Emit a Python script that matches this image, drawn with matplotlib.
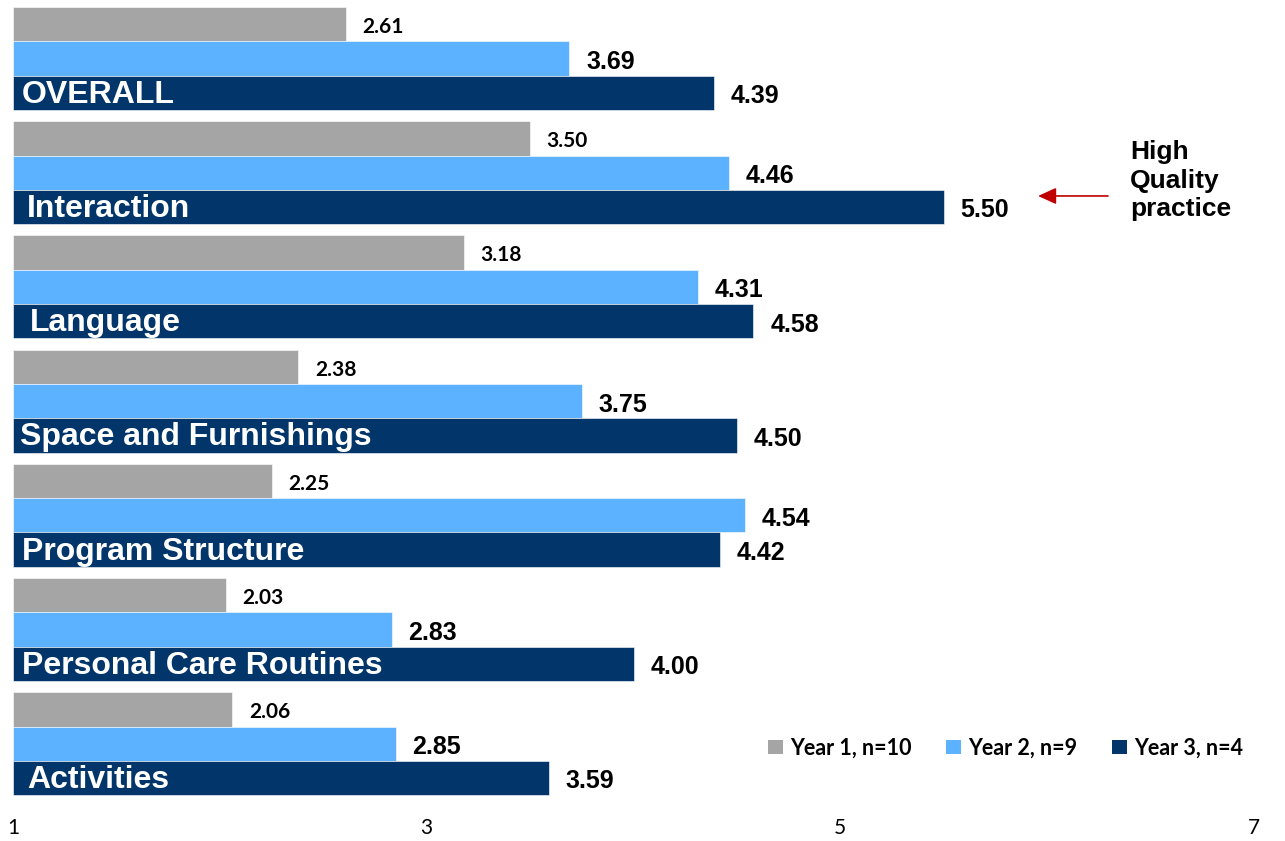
import matplotlib
matplotlib.use("Agg")
import matplotlib.pyplot as plt
from matplotlib.patches import Patch

categories = ["OVERALL", "Interaction", "Language", "Space and Furnishings",
              "Program Structure", "Personal Care Routines", "Activities"]
year1 = [2.61, 3.50, 3.18, 2.38, 2.25, 2.03, 2.06]
year2 = [3.69, 4.46, 4.31, 3.75, 4.54, 2.83, 2.85]
year3 = [4.39, 5.50, 4.58, 4.50, 4.42, 4.00, 3.59]
series_names = ["Year 1, n=10", "Year 2, n=9", "Year 3, n=4"]
x_ticks = [1, 3, 5, 7]

# left indent (points) of each category name inside its bar
name_indent = [6.5, 10, 12, 5, 6.5, 6.5, 10]

colors = ["#A5A5A5", "#5CB2FE", "#02366A"]
ARIAL = "Liberation Sans"
CALIBRI = "Lato"

W, H = 1285, 841
fig = plt.figure(figsize=(W / 100, H / 100), dpi=100)
ax = fig.add_axes([13 / W, 1 - 800 / H, 1241 / W, 800 / H])

bar_h = 0.3006
series = [year1, year2, year3]
for j, vals in enumerate(series):
    for i, v in enumerate(vals):
        y = i + (j - 1) * bar_h
        ax.barh(y, v - 1, left=1, height=bar_h, color=colors[j],
                edgecolor="white", linewidth=0.4)
        if j == 0:
            ax.annotate(f"{v:.2f}", xy=(v, y), xytext=(12, -2),
                        textcoords="offset points", va="center", ha="left",
                        fontsize=15, fontweight="bold", family=CALIBRI,
                        color="black")
        else:
            ax.annotate(f"{v:.2f}", xy=(v, y), xytext=(12, -2.5),
                        textcoords="offset points", va="center", ha="left",
                        fontsize=18, fontweight="bold", family=ARIAL,
                        color="black")

# category names inside the Year 3 bars
for i, name in enumerate(categories):
    ax.annotate(name, xy=(1, i + bar_h), xytext=(name_indent[i], -1.5),
                textcoords="offset points", va="center", ha="left",
                fontsize=23, fontweight="bold", family=ARIAL, color="white")

ax.set_xlim(1, 7)
ax.set_ylim(6.493, -0.512)
ax.set_xticks(x_ticks)
ax.set_xticklabels([str(t) for t in x_ticks], family=CALIBRI, fontsize=15)
ax.set_yticks([])
ax.tick_params(axis="x", length=0, pad=13)
for s in ax.spines.values():
    s.set_visible(False)

# benchmark note
ax.annotate("", xy=(5.956, 1.204), xytext=(6.294, 1.204),
            arrowprops=dict(arrowstyle="-|>,head_length=1.1,head_width=0.5",
                            mutation_scale=10, color="#C00000", lw=1.2,
                            shrinkA=0, shrinkB=0))
ax.text(6.40, 1.07, "High\nQuality\npractice", ha="left", va="center",
        multialignment="left", linespacing=1.24, fontsize=19,
        fontweight="bold", family=ARIAL, color="black")

handles = [Patch(facecolor=c, edgecolor="none") for c in colors]
fig.legend(handles, series_names, loc="center left",
           bbox_to_anchor=(768 / W, 1 - 748 / H), bbox_transform=fig.transFigure,
           ncol=3, frameon=False, borderpad=0, borderaxespad=0,
           handlelength=0.68, handleheight=0.68, handletextpad=0.35,
           columnspacing=1.6,
           prop=dict(family=CALIBRI, weight="bold", size=15.5))

fig.savefig("out.png", dpi=100)
